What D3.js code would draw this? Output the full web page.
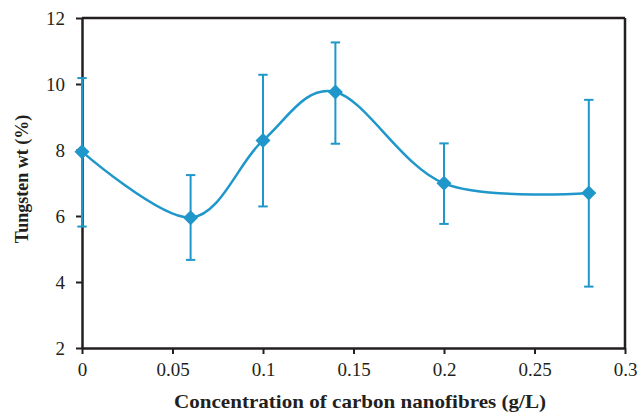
<!DOCTYPE html>
<html><head><meta charset="utf-8">
<script src="https://cdn.jsdelivr.net/npm/d3@7"></script>
<style>body{margin:0;background:#fff} text{font-family:"Liberation Serif","Times New Roman",Tinos,"DejaVu Serif",serif;}</style>
</head><body>
<svg id="c" width="642" height="414"></svg>
<script>
const concentrations = [0, 0.06, 0.1, 0.14, 0.2, 0.28];
const tungsten = [7.95, 5.95, 8.29, 9.76, 6.99, 6.70];
const errUpper = [10.18, 7.24, 10.28, 11.26, 8.2, 9.52];
const errLower = [5.68, 4.67, 6.29, 8.19, 5.76, 3.86];
const xTicks = [0, 0.05, 0.1, 0.15, 0.2, 0.25, 0.3];
const yTicks = [2, 4, 6, 8, 10, 12];
const xTitle = "Concentration of carbon nanofibres (g/L)";
const yTitle = "Tungsten wt (%)";

const color = "#1f97cb";
const m = {l: 82, r: 625, t: 18, b: 348};
const svg = d3.select("#c");
const x = d3.scaleLinear().domain([0, 0.3]).range([m.l, m.r]);
const y = d3.scaleLinear().domain([2, 12]).range([m.b, m.t]);

// frame top/right
svg.append("line").attr("x1", m.l).attr("x2", m.r).attr("y1", m.t).attr("y2", m.t).attr("stroke", "#231f20").attr("stroke-width", 2.5);
svg.append("line").attr("x1", m.r).attr("x2", m.r).attr("y1", m.t).attr("y2", m.b).attr("stroke", "#231f20").attr("stroke-width", 2.5);

const xAxis = svg.append("g").attr("transform", `translate(0,${m.b})`)
  .call(d3.axisBottom(x).tickValues(xTicks).tickFormat(d => String(d)).tickSize(6).tickSizeOuter(0).tickPadding(9));
const yAxis = svg.append("g").attr("transform", `translate(${m.l},0)`)
  .call(d3.axisLeft(y).tickValues(yTicks).tickFormat(d => String(d)).tickSize(6).tickSizeOuter(0).tickPadding(11));
[xAxis, yAxis].forEach(a => {
  a.attr("font-family", null);
  a.select(".domain").attr("stroke", "#231f20").attr("stroke-width", 2.5);
  a.selectAll(".tick line").attr("stroke", "#231f20").attr("stroke-width", 2);
  a.selectAll("text").attr("font-size", 19).attr("fill", "#231f20");
});

const pts = concentrations.map((c, i) => ({x: c, y: tungsten[i], hi: errUpper[i], lo: errLower[i]}));

// line
svg.append("path").datum(pts)
  .attr("d", d3.line().x(d => x(d.x)).y(d => y(d.y)).curve(d3.curveCardinal.tension(0)))
  .attr("fill", "none").attr("stroke", color).attr("stroke-width", 2.5);

// error bars
const eb = svg.append("g").attr("stroke", color).attr("stroke-width", 2);
pts.forEach(d => {
  eb.append("line").attr("x1", x(d.x)).attr("x2", x(d.x)).attr("y1", y(d.hi)).attr("y2", y(d.lo));
  [d.hi, d.lo].forEach(v => eb.append("line").attr("x1", x(d.x) - 4.7).attr("x2", x(d.x) + 4.7).attr("y1", y(v)).attr("y2", y(v)));
});

// markers
const s = 7.5;
svg.append("g").selectAll("path").data(pts).join("path")
  .attr("d", d => `M${x(d.x)},${y(d.y) - s}L${x(d.x) + s},${y(d.y)}L${x(d.x)},${y(d.y) + s}L${x(d.x) - s},${y(d.y)}Z`)
  .attr("fill", color);

svg.append("text").attr("x", 360).attr("y", 408).attr("text-anchor", "middle")
  .attr("textLength", 372).attr("lengthAdjust", "spacingAndGlyphs")
  .attr("font-weight", "bold").attr("font-size", 19).attr("fill", "#231f20").text(xTitle);
svg.append("text").attr("transform", "translate(28,179) rotate(-90)").attr("text-anchor", "middle")
  .attr("font-weight", "bold").attr("font-size", 18).attr("fill", "#231f20").text(yTitle);
</script>
</body></html>
